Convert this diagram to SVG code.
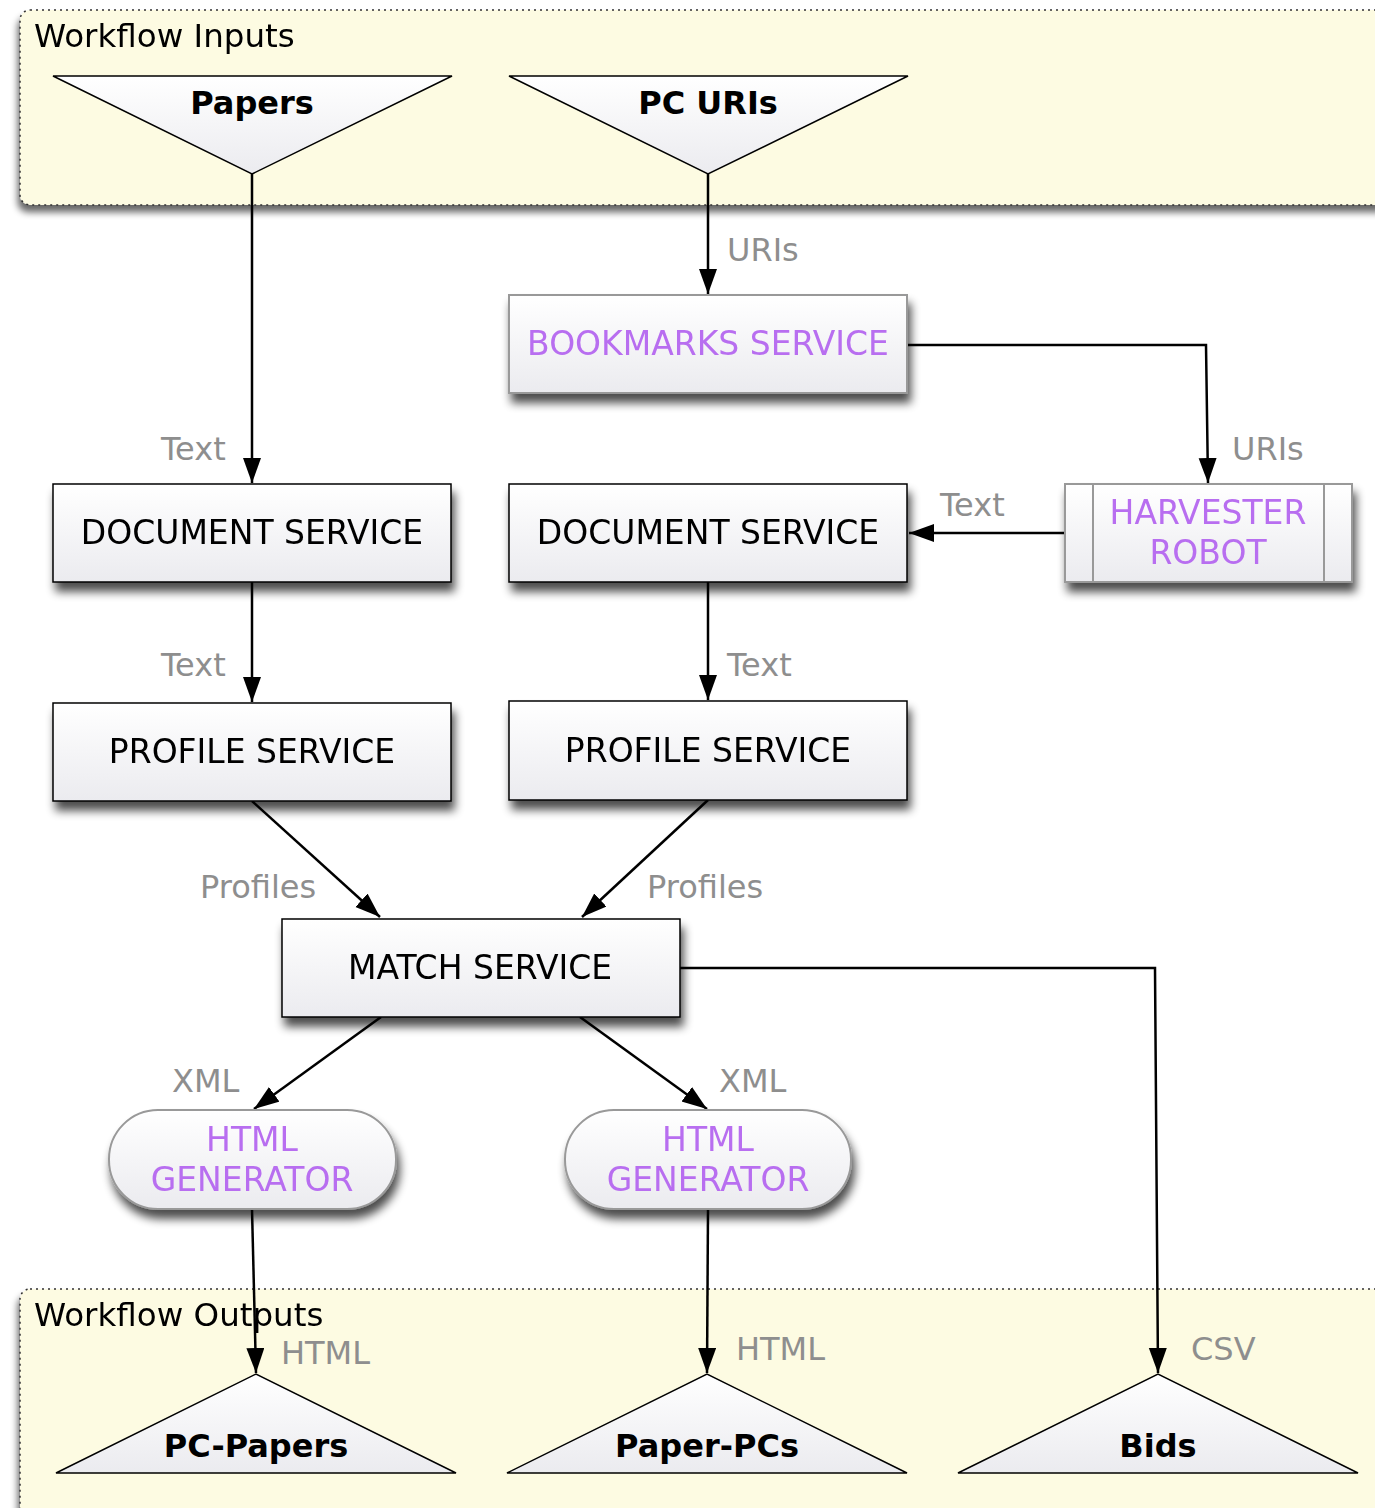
<svg xmlns="http://www.w3.org/2000/svg" width="1375" height="1508" viewBox="0 0 1375 1508">
<defs>
<linearGradient id="g" x1="0" y1="0" x2="0" y2="1">
<stop offset="0" stop-color="#ffffff"/>
<stop offset="1" stop-color="#ebebef"/>
</linearGradient>
<filter id="sh" x="-10%" y="-20%" width="125%" height="150%">
<feGaussianBlur in="SourceAlpha" stdDeviation="5"/>
<feOffset dx="3" dy="9" result="b"/>
<feComponentTransfer><feFuncA type="linear" slope="0.7"/></feComponentTransfer>
<feMerge><feMergeNode/><feMergeNode in="SourceGraphic"/></feMerge>
</filter>
<filter id="csh" x="-5%" y="-10%" width="110%" height="130%">
<feGaussianBlur in="SourceAlpha" stdDeviation="3.5"/>
<feOffset dx="-2" dy="7" result="b"/>
<feComponentTransfer><feFuncA type="linear" slope="0.6"/></feComponentTransfer>
<feMerge><feMergeNode/><feMergeNode in="SourceGraphic"/></feMerge>
</filter>
<marker id="ah" markerUnits="userSpaceOnUse" markerWidth="26" markerHeight="20" refX="25" refY="9" orient="auto">
<path d="M0,0 L25,9 L0,18 z" fill="#000"/>
</marker>
</defs>
<style>
text{font-family:"DejaVu Sans","Verdana",sans-serif}
.cl{fill:#fdfbe2;stroke:#333;stroke-width:1.5;stroke-dasharray:2,4}
.ct{font-size:32.5px;fill:#000}
.box{fill:url(#g);stroke:#000;stroke-width:1.5}
.gbox{fill:url(#g);stroke:#999;stroke-width:2}
.tri{fill:url(#g);stroke:#000;stroke-width:1.5}
.nt{font-size:33px;fill:#000;text-anchor:middle}
.pt{font-size:33px;fill:#b86ef0;text-anchor:middle}
.bt{font-size:32px;font-weight:bold;fill:#000;text-anchor:middle}
.lb{font-size:32px;fill:#8e8e8e}
.e{fill:none;stroke:#000;stroke-width:2.5;marker-end:url(#ah)}
</style>
<rect width="1375" height="1508" fill="#fff"/>
<g id="cluster-inputs" filter="url(#csh)">
<rect class="cl" x="20" y="10" width="1380" height="195" rx="10"/>
<text class="ct" x="34" y="47">Workflow Inputs</text>
</g>
<g id="cluster-outputs" filter="url(#csh)">
<rect class="cl" x="20" y="1289" width="1380" height="260" rx="10"/>
<text class="ct" x="34" y="1326">Workflow Outputs</text>
</g>
<g id="connectors">
<path class="e" d="M252,174 L252,483"/>
<path class="e" d="M708,174 L708,294"/>
<path class="e" d="M907,345 L1206,345 L1208,483"/>
<path class="e" d="M1065,533 L909,533"/>
<path class="e" d="M252,582 L252,702"/>
<path class="e" d="M708,582 L708,700"/>
<path class="e" d="M252,801 L380,917"/>
<path class="e" d="M708,800 L582,917"/>
<path class="e" d="M381,1017 L254,1109"/>
<path class="e" d="M580,1017 L707,1109"/>
<path class="e" d="M680,968 L1155,968 L1158,1373"/>
<path class="e" d="M252,1209 L256,1373"/>
<path class="e" d="M708,1209 L707,1373"/>
<text class="lb" x="161" y="460">Text</text>
<text class="lb" x="727" y="261">URIs</text>
<text class="lb" x="1232" y="460">URIs</text>
<text class="lb" x="940" y="516">Text</text>
<text class="lb" x="161" y="676">Text</text>
<text class="lb" x="727" y="676">Text</text>
<text class="lb" x="200" y="898">Profiles</text>
<text class="lb" x="647" y="898">Profiles</text>
<text class="lb" x="172" y="1092">XML</text>
<text class="lb" x="719" y="1092">XML</text>
<text class="lb" x="1191" y="1360">CSV</text>
<text class="lb" x="281" y="1364">HTML</text>
<text class="lb" x="736" y="1360">HTML</text>
</g>
<g id="papers">
<polygon class="tri" points="53,76 452,76 252,174"/>
<text class="bt" x="252" y="114">Papers</text>
</g>
<g id="pc-uris">
<polygon class="tri" points="509,76 908,76 708,174"/>
<text class="bt" x="708" y="114">PC URIs</text>
</g>
<g id="bookmarks-service" filter="url(#sh)">
<rect class="gbox" x="509" y="295" width="398" height="98"/>
<text class="pt" x="708" y="355">BOOKMARKS SERVICE</text>
</g>
<g id="harvester-robot" filter="url(#sh)">
<rect class="gbox" x="1065" y="484" width="287" height="98"/>
<line x1="1093" y1="484" x2="1093" y2="582" stroke="#999" stroke-width="2"/>
<line x1="1324" y1="484" x2="1324" y2="582" stroke="#999" stroke-width="2"/>
<text class="pt" x="1208" y="524">HARVESTER</text>
<text class="pt" x="1208" y="564">ROBOT</text>
</g>
<g id="document-service-1" filter="url(#sh)">
<rect class="box" x="53" y="484" width="398" height="98"/>
<text class="nt" x="252" y="544">DOCUMENT SERVICE</text>
</g>
<g id="document-service-2" filter="url(#sh)">
<rect class="box" x="509" y="484" width="398" height="98"/>
<text class="nt" x="708" y="544">DOCUMENT SERVICE</text>
</g>
<g id="profile-service-1" filter="url(#sh)">
<rect class="box" x="53" y="703" width="398" height="98"/>
<text class="nt" x="252" y="763">PROFILE SERVICE</text>
</g>
<g id="profile-service-2" filter="url(#sh)">
<rect class="box" x="509" y="701" width="398" height="99"/>
<text class="nt" x="708" y="762">PROFILE SERVICE</text>
</g>
<g id="match-service" filter="url(#sh)">
<rect class="box" x="282" y="919" width="398" height="98"/>
<text class="nt" x="480" y="979">MATCH SERVICE</text>
</g>
<g id="html-generator-1" filter="url(#sh)">
<rect class="gbox" x="109" y="1110" width="287" height="99" rx="49" stroke="#888"/>
<text class="pt" x="252" y="1151">HTML</text>
<text class="pt" x="252" y="1191">GENERATOR</text>
</g>
<g id="html-generator-2" filter="url(#sh)">
<rect class="gbox" x="565" y="1110" width="286" height="99" rx="49" stroke="#888"/>
<text class="pt" x="708" y="1151">HTML</text>
<text class="pt" x="708" y="1191">GENERATOR</text>
</g>
<g id="pc-papers">
<polygon class="tri" points="56,1473 456,1473 256,1374"/>
<text class="bt" x="256" y="1457">PC-Papers</text>
</g>
<g id="paper-pcs">
<polygon class="tri" points="507,1473 907,1473 707,1374"/>
<text class="bt" x="707" y="1457">Paper-PCs</text>
</g>
<g id="bids">
<polygon class="tri" points="958,1473 1358,1473 1158,1374"/>
<text class="bt" x="1158" y="1457">Bids</text>
</g>
</svg>
